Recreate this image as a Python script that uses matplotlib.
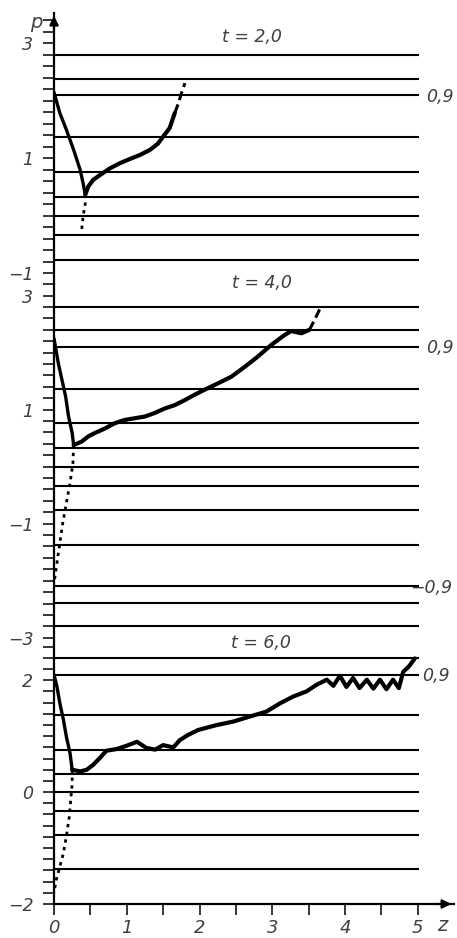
import matplotlib
matplotlib.use('Agg')
import matplotlib.pyplot as plt
import numpy as np

plt.rcParams['font.family'] = ['DejaVu Sans']
plt.rcParams['font.style'] = 'italic'

# horizontal level lines (same set in every panel, clipped by the panel range)
levels = [2.80, 2.39, 2.10, 1.37, 0.76, 0.33, 0.0, -0.33, -0.76, -1.37, -2.10, -2.39, -2.80]

# ---- t = 2,0 ----
t2_desc_z = [0.00, 0.08, 0.17, 0.27, 0.36, 0.40, 0.43]
t2_desc_p = [2.15, 1.79, 1.50, 1.15, 0.80, 0.57, 0.37]
t2_tail_z = [0.43, 0.43, 0.40, 0.38]
t2_tail_p = [0.37, 0.22, -0.01, -0.24]
t2_rise_z = [0.43, 0.47, 0.54, 0.63, 0.77, 0.91, 1.04, 1.18, 1.32, 1.43, 1.50, 1.59, 1.66]
t2_rise_p = [0.37, 0.51, 0.63, 0.71, 0.83, 0.92, 0.99, 1.06, 1.15, 1.26, 1.38, 1.53, 1.79]
t2_end_z = [1.66, 1.71, 1.75, 1.80]
t2_end_p = [1.79, 1.96, 2.13, 2.31]

# ---- t = 4,0 ----
t4_desc_z = [0.00, 0.06, 0.11, 0.16, 0.20, 0.25, 0.27]
t4_desc_p = [2.25, 1.81, 1.52, 1.23, 0.88, 0.59, 0.38]
t4_tail_z = [0.27, 0.26, 0.22, 0.17, 0.12, 0.08, 0.04, 0.00]
t4_tail_p = [0.38, 0.06, -0.29, -0.64, -0.99, -1.34, -1.69, -2.05]
t4_rise_z = [0.27, 0.38, 0.47, 0.56, 0.70, 0.83, 0.97, 1.11, 1.25, 1.38, 1.52, 1.66,
             1.80, 1.93, 2.07, 2.25, 2.44, 2.62, 2.80, 2.99, 3.17, 3.26, 3.40, 3.51]
t4_rise_p = [0.38, 0.44, 0.53, 0.59, 0.67, 0.76, 0.82, 0.85, 0.88, 0.94, 1.02, 1.08,
             1.17, 1.26, 1.35, 1.46, 1.58, 1.75, 1.93, 2.14, 2.31, 2.38, 2.34, 2.40]
t4_end_z = [3.51, 3.58, 3.67]
t4_end_p = [2.40, 2.57, 2.81]

# ---- t = 6,0 ----
t6_desc_z = [0.00, 0.04, 0.08, 0.13, 0.17, 0.22, 0.25]
t6_desc_p = [2.10, 1.89, 1.59, 1.29, 0.99, 0.70, 0.40]
t6_tail_z = [0.25, 0.25, 0.23, 0.21, 0.17, 0.13, 0.08, 0.03, 0.00]
t6_tail_p = [0.40, 0.16, -0.14, -0.44, -0.79, -1.09, -1.33, -1.57, -1.80]
t6_rise_z = [0.25, 0.36, 0.45, 0.54, 0.63, 0.72, 0.86, 1.00, 1.14, 1.27, 1.39, 1.50,
             1.64, 1.73, 1.84, 1.98, 2.24, 2.46, 2.69, 2.92, 3.11, 3.29, 3.47, 3.61,
             3.75, 3.84, 3.93, 4.02, 4.11, 4.20, 4.30, 4.39, 4.48, 4.57, 4.66, 4.74,
             4.80, 4.88, 4.96]
t6_rise_p = [0.40, 0.37, 0.40, 0.49, 0.61, 0.74, 0.77, 0.83, 0.90, 0.79, 0.76, 0.84,
             0.80, 0.93, 1.02, 1.11, 1.20, 1.26, 1.35, 1.44, 1.59, 1.71, 1.80, 1.92,
             2.01, 1.90, 2.08, 1.88, 2.04, 1.86, 2.01, 1.85, 2.01, 1.84, 2.01, 1.86,
             2.15, 2.25, 2.39]

panels = [
    dict(ylim=(-1.183, 3.53), ylabels=[3, 1, -1], title='t = 2,0', tpos=(2.72, 3.11),
         marks=[('0,9', 5.12, 2.07)],
         desc=(t2_desc_z, t2_desc_p), tail=(t2_tail_z, t2_tail_p),
         rise=(t2_rise_z, t2_rise_p), end=(t2_end_z, t2_end_p)),
    dict(ylim=(-3.128, 3.205), ylabels=[3, 1, -1, -3], title='t = 4,0', tpos=(2.86, 3.22),
         marks=[('0,9', 5.12, 2.08), ('-0,9', 4.90, -2.12)],
         desc=(t4_desc_z, t4_desc_p), tail=(t4_tail_z, t4_tail_p),
         rise=(t4_rise_z, t4_rise_p), end=(t4_end_z, t4_end_p)),
    dict(ylim=(-1.995, 2.63), ylabels=[2, 0, -2], title='t = 6,0', tpos=(2.84, 2.67),
         marks=[('0,9', 5.06, 2.08)],
         desc=(t6_desc_z, t6_desc_p), tail=(t6_tail_z, t6_tail_p),
         rise=(t6_rise_z, t6_rise_p), end=None),
]

fig = plt.figure(figsize=(4.57, 9.38), dpi=100)
H = 938.0
Wpx = 457.0
left = 54 / Wpx
width = 5.5 * 72.75 / Wpx
rects = [(284, 271), (645, 361), (904, 259)]
txtc = '#404040'
axes = []
for (bot, h), P in zip(rects, panels):
    ax = fig.add_axes([left, 1 - bot / H, width, h / H])
    axes.append(ax)
    ax.set_xlim(0, 5.5)
    ax.set_ylim(*P['ylim'])
    for s in ['top', 'right', 'bottom']:
        ax.spines[s].set_visible(False)
    ax.spines['left'].set_linewidth(1.6)
    ax.hlines(levels, 0, 5.02, color='black', lw=1.5)
    lo, hi = P['ylim']
    minor = np.round(np.arange(np.ceil(lo / 0.2) * 0.2, hi, 0.2), 2)
    ax.set_yticks(minor, minor=True)
    ax.set_yticks(P['ylabels'])
    ax.set_yticklabels([str(v).replace('-', '\u2212') for v in P['ylabels']])
    ax.tick_params(axis='y', which='both', direction='out', length=8, width=1.1,
                   pad=7, labelsize=12.5, labelcolor=txtc)
    ax.tick_params(axis='x', which='both', bottom=False, labelbottom=False)
    z, p = P['desc']
    ax.plot(z, p, color='black', lw=2.4, solid_capstyle='round')
    z, p = P['tail']
    ax.plot(z, p, color='black', lw=2.0, linestyle=(0, (1.2, 1.6)))
    z, p = P['rise']
    ax.plot(z, p, color='black', lw=3.0, solid_capstyle='round', solid_joinstyle='round')
    if P['end'] is not None:
        z, p = P['end']
        ax.plot(z, p, color='black', lw=2.2, linestyle=(0, (3, 1.5)))
    ax.text(P['tpos'][0], P['tpos'][1], P['title'], ha='center', va='center',
            fontsize=12.5, color=txtc, clip_on=False)
    for lab, zx, py in P['marks']:
        ax.text(zx, py, lab.replace('-', '\u2212'), ha='left', va='center', fontsize=12.5,
                color=txtc, clip_on=False)

ax1, ax2, ax3 = axes
# y-axis arrow on top panel
ax1.annotate('', xy=(0, 1.0), xycoords='axes fraction', xytext=(0, 0.93),
             arrowprops=dict(arrowstyle='-|>', color='black', lw=1.6, mutation_scale=13))
ax1.text(-0.028, 0.965, 'p', transform=ax1.transAxes, ha='right', va='center',
         fontsize=14, color=txtc)

# x axis on bottom panel
ax3.spines['bottom'].set_visible(True)
ax3.spines['bottom'].set_linewidth(1.6)
ax3.set_xticks([0, 1, 2, 3, 4, 5])
ax3.set_xticks(np.arange(0, 5.01, 0.5), minor=True)
ax3.tick_params(axis='x', which='both', bottom=True, labelbottom=True, direction='out',
                length=8, width=1.1, pad=3, labelsize=13, labelcolor=txtc)
ax3.annotate('', xy=(1.0, 0), xycoords='axes fraction', xytext=(0.95, 0),
             arrowprops=dict(arrowstyle='-|>', color='black', lw=1.6, mutation_scale=13))
ax3.text(5.33, -2.38, 'z', ha='center', va='center', fontsize=14, color=txtc,
         clip_on=False)

fig.savefig('out.png', dpi=100, facecolor='white')
